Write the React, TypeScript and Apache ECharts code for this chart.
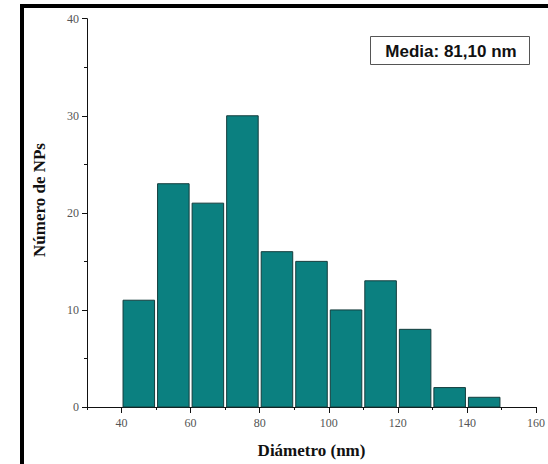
import React, { useEffect, useRef } from "react";
import * as echarts from "echarts";

const binStarts = [40, 50, 60, 70, 80, 90, 100, 110, 120, 130, 140];
const binWidth = 10;
const counts = [11, 23, 21, 30, 16, 15, 10, 13, 8, 2, 1];
const xMajorTicks = [40, 60, 80, 100, 120, 140, 160];
const legendText = "Media: 81,10 nm";
const xTitle = "Diámetro (nm)";
const yTitle = "Número de NPs";

export default function App() {
  const ref = useRef<HTMLDivElement>(null);
  useEffect(() => {
    document.body.style.margin = "0";
    const chart = echarts.init(ref.current!, null, { renderer: "svg" });
    const data = binStarts.map((s, i) => [s, s + binWidth, counts[i]]);
    const serif = "Liberation Serif";
    chart.setOption({
      animation: false,
      backgroundColor: "#fff",
      grid: { left: 87, right: 11, top: 18.7, bottom: 56.7 },
      xAxis: [
        {
          type: "value",
          min: 30,
          max: 160,
          name: xTitle,
          nameLocation: "middle",
          nameGap: 35,
          nameTextStyle: { fontFamily: serif, fontWeight: "bold", fontSize: 17, color: "#111" },
          axisLine: { show: true, onZero: false, lineStyle: { color: "#111", width: 1 } },
          axisTick: { show: true, length: 6, customValues: xMajorTicks, lineStyle: { color: "#111" } },
          axisLabel: { customValues: xMajorTicks, fontFamily: serif, fontSize: 12, color: "#555", margin: 10 },
          splitLine: { show: false },
        },
        {
          type: "value",
          min: 30,
          max: 160,
          interval: 10,
          position: "bottom",
          axisLine: { show: false },
          axisTick: { show: true, length: 3, lineStyle: { color: "#111" } },
          axisLabel: { show: false },
          splitLine: { show: false },
        },
      ],
      yAxis: {
        type: "value",
        min: 0,
        max: 40,
        interval: 10,
        axisLine: { show: true, lineStyle: { color: "#111", width: 1 } },
        axisTick: { show: true, length: 5, lineStyle: { color: "#111" } },
        minorTick: { show: true, splitNumber: 2, length: 3, lineStyle: { color: "#111" } },
        axisLabel: { fontFamily: serif, fontSize: 12, color: "#555", margin: 8 },
        splitLine: { show: false },
      },
      series: [
        {
          type: "custom",
          xAxisIndex: 0,
          data,
          encode: { x: [0, 1], y: 2 },
          renderItem: (params: any, api: any) => {
            const p0 = api.coord([api.value(0), api.value(2)]);
            const p1 = api.coord([api.value(1), 0]);
            return {
              type: "rect",
              shape: { x: p0[0] + 1.5, y: p0[1], width: p1[0] - p0[0] - 3, height: p1[1] - p0[1] },
              style: { fill: "#0b8080", stroke: "#143c3c", lineWidth: 1 },
            };
          },
        },
      ],
      graphic: [
        { type: "rect", shape: { x: 20, y: 4, width: 528, height: 4 }, style: { fill: "#000" } },
        { type: "rect", shape: { x: 20, y: 4, width: 4, height: 460 }, style: { fill: "#000" } },
        {
          type: "text",
          x: 39,
          y: 200,
          rotation: Math.PI / 2,
          style: {
            text: yTitle,
            font: "bold 17px 'Liberation Serif'",
            fill: "#111",
            align: "center",
            verticalAlign: "middle",
          },
        },
        {
          type: "rect",
          shape: { x: 370.5, y: 36.5, width: 159, height: 28 },
          style: { fill: "#fff", stroke: "#555", lineWidth: 1 },
        },
        {
          type: "text",
          x: 451,
          y: 51,
          style: {
            text: legendText,
            font: "bold 17px 'Liberation Sans'",
            fill: "#111",
            align: "center",
            verticalAlign: "middle",
          },
        },
      ],
    });
    return () => chart.dispose();
  }, []);
  return <div ref={ref} style={{ width: 548, height: 464 }} />;
}
